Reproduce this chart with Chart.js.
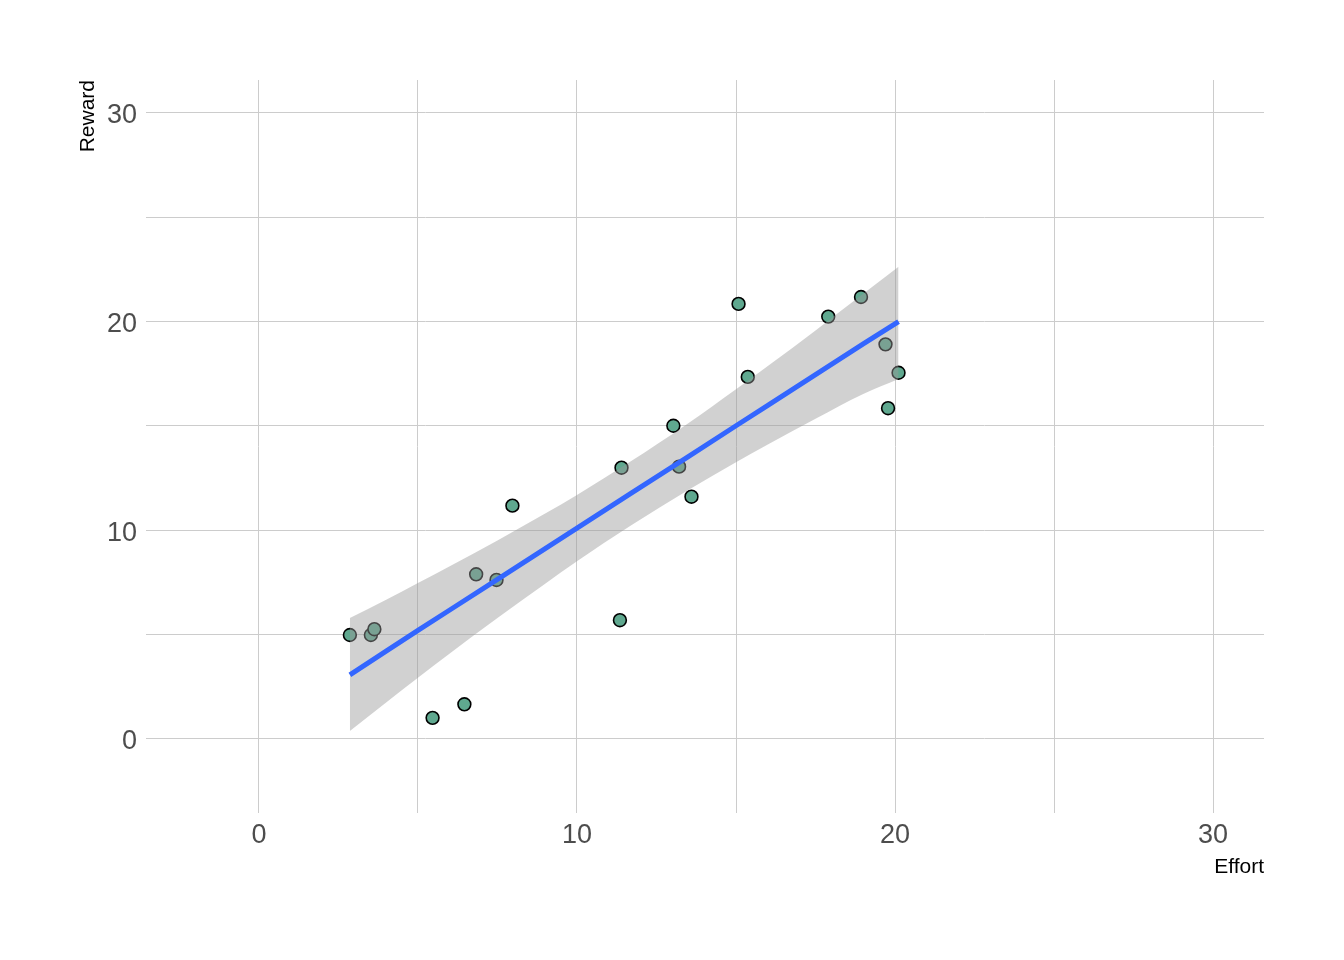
<!DOCTYPE html>
<html>
<head>
<meta charset="utf-8">
<script src="https://cdn.jsdelivr.net/npm/chart.js@4"></script>
<style>
  html, body { margin: 0; padding: 0; background: #fff; }
  #wrap { width: 1344px; height: 960px; }
</style>
</head>
<body>
<div id="wrap"><canvas id="chart" width="1344" height="960"></canvas></div>
<script>
// observed points
const effort = [2.86, 3.52, 3.63, 5.46, 6.46, 6.83, 7.47, 7.97, 11.35, 11.40, 13.03, 13.21, 13.60, 15.08, 15.37, 17.90, 18.93, 19.70, 19.78, 20.11];
const reward = [4.98, 4.98, 5.26, 1.01, 1.66, 7.89, 7.62, 11.18, 5.69, 13.00, 15.01, 13.05, 11.61, 20.85, 17.35, 20.24, 21.18, 18.91, 15.85, 17.55];

// linear fit and its confidence band
const fitX   = [2.86, 4.00, 5.00, 6.00, 7.50, 9.00, 10.00, 11.67, 13.50, 15.00, 16.00, 17.50, 19.00, 20.11];
const fitY   = [3.07, 4.21, 5.20, 6.18, 7.65, 9.12, 10.10, 11.74, 13.53, 15.01, 15.99, 17.46, 18.93, 20.00];
const bandHi = [5.80, 6.67, 7.47, 8.27, 9.51, 10.80, 11.69, 13.28, 15.13, 16.76, 17.87, 19.58, 21.33, 22.63];
const bandLo = [0.38, 1.75, 2.93, 4.09, 5.79, 7.44, 8.51, 10.20, 11.93, 13.26, 14.11, 15.34, 16.53, 17.25];

const xTicks = [0, 10, 20, 30];
const yTicks = [0, 10, 20, 30];

const pts = (xs, ys) => xs.map((x, i) => ({ x, y: ys[i] }));

const fam = '"Liberation Sans Narrow", "Arial Narrow", "Liberation Sans", Arial, sans-serif';

const gridOpts = { color: "#cccccc", lineWidth: 1, drawTicks: false };

new Chart(document.getElementById("chart"), {
  type: "scatter",
  data: {
    datasets: [
      {
        type: "line",
        data: pts(fitX, fitY),
        borderColor: "#3366FF",
        borderWidth: 5,
        pointRadius: 0,
        fill: false,
        order: 0
      },
      {
        type: "line",
        data: pts(fitX, bandHi),
        borderWidth: 0,
        pointRadius: 0,
        cubicInterpolationMode: "monotone",
        backgroundColor: "rgba(153,153,153,0.45)",
        fill: "+1",
        order: 1
      },
      {
        type: "line",
        data: pts(fitX, bandLo),
        borderWidth: 0,
        pointRadius: 0,
        cubicInterpolationMode: "monotone",
        fill: false,
        order: 1
      },
      {
        data: pts(effort, reward),
        backgroundColor: "#5fa88f",
        borderColor: "#000",
        borderWidth: 1.6,
        pointRadius: 6.4,
        order: 2
      }
    ]
  },
  options: {
    responsive: false,
    devicePixelRatio: 1,
    animation: false,
    layout: { padding: { top: 80, right: 80, left: 0, bottom: 0 } },
    plugins: { legend: { display: false }, tooltip: { enabled: false } },
    scales: {
      x: {
        type: "linear",
        min: -3.55,
        max: 31.6,
        border: { display: false },
        grid: gridOpts,
        afterFit: (s) => { s.height = 147; },
        ticks: {
          stepSize: 5,
          includeBounds: false,
          autoSkip: false,
          maxRotation: 0,
          padding: 6,
          color: "#4d4d4d",
          font: { family: fam, size: 27 },
          callback: (v) => (xTicks.includes(v) ? String(v) : "")
        },
        title: {
          display: true,
          text: "Effort",
          align: "end",
          color: "#000",
          font: { family: fam, size: 21 },
          padding: { top: 0, bottom: 80 }
        }
      },
      y: {
        type: "linear",
        min: -3.55,
        max: 31.58,
        border: { display: false },
        grid: gridOpts,
        afterFit: (s) => { s.width = 146; },
        ticks: {
          stepSize: 5,
          includeBounds: false,
          autoSkip: false,
          padding: 9,
          labelOffset: 3,
          color: "#4d4d4d",
          font: { family: fam, size: 27 },
          callback: (v) => (yTicks.includes(v) ? String(v) : "")
        },
        title: {
          display: true,
          text: "Reward",
          align: "end",
          color: "#000",
          font: { family: fam, size: 21 },
          padding: { top: 76, bottom: 0 }
        }
      }
    }
  }
});
</script>
</body>
</html>
